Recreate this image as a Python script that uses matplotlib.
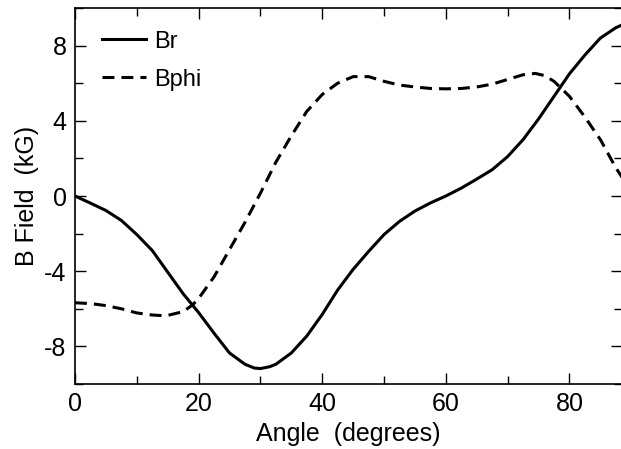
import matplotlib
matplotlib.use("Agg")
import matplotlib.pyplot as plt
from matplotlib.ticker import MultipleLocator

angle_br = [0, 2.5, 5, 7.5, 10, 12.5, 15, 17.5, 20, 22.5, 25, 27.5, 29, 30, 31.5, 32.5,
            35, 37.5, 40, 42.5, 45, 47.5, 50, 52.5, 55, 57.5, 60, 62.5, 65, 67.5, 70,
            72.5, 75, 77.5, 80, 82.5, 85, 87.5, 88.5]
br = [0, -0.38, -0.77, -1.3, -2.05, -2.9, -4.05, -5.2, -6.2, -7.3, -8.35, -8.95, -9.15,
      -9.18, -9.08, -8.95, -8.35, -7.45, -6.3, -5.0, -3.9, -2.95, -2.05, -1.35, -0.8,
      -0.37, 0.0, 0.42, 0.9, 1.4, 2.1, 3.0, 4.1, 5.3, 6.5, 7.5, 8.4, 8.95, 9.1]

angle_bphi = [0, 2.5, 5, 7.5, 10, 12.5, 14, 15, 17.5, 19, 20, 22.5, 25, 27.5, 30, 32.5,
              35, 37.5, 40, 42.5, 45, 47.5, 50, 52.5, 55, 57.5, 60, 62.5, 65, 67.5,
              70, 72.5, 74.5, 76, 77.5, 80, 82.5, 85, 87.5, 88.5]
bphi = [-5.68, -5.72, -5.83, -6.0, -6.22, -6.33, -6.36, -6.35, -6.15, -5.8, -5.45, -4.3,
        -2.85, -1.4, 0.15, 1.8, 3.2, 4.5, 5.4, 6.0, 6.35, 6.35, 6.1, 5.9, 5.8, 5.72,
        5.7, 5.72, 5.8, 5.95, 6.2, 6.45, 6.52, 6.4, 6.1, 5.3, 4.2, 3.0, 1.5, 1.0]

xticks = [0, 20, 40, 60, 80]
yticks = [-8, -4, 0, 4, 8]
ytick_labels = ["-8", "-4", "0", "4", "8"]

plt.rcParams['font.family'] = ['Liberation Sans', 'DejaVu Sans']

fig = plt.figure(figsize=(6.21, 4.49), dpi=100)
ax = fig.add_axes([75/621, 1 - 384/449, 547/621, 376/449])

ax.plot(angle_br, br, color='black', lw=2.2, label='Br')
ax.plot(angle_bphi, bphi, color='black', lw=2.2, ls=(0, (3.9, 2.3)), label='Bphi')

ax.set_xlim(0, 88.5)
ax.set_ylim(-10, 10)
ax.set_xticks(xticks)
ax.set_yticks(yticks)
ax.set_yticklabels(ytick_labels)
ax.xaxis.set_minor_locator(MultipleLocator(10))
ax.yaxis.set_minor_locator(MultipleLocator(2))
ax.tick_params(which='both', direction='in', top=True, right=True, labelsize=18,
               width=1.0, pad=6)
ax.tick_params(which='major', length=8)
ax.tick_params(which='minor', length=6)
for s in ax.spines.values():
    s.set_linewidth(1.2)

ax.set_xlabel("Angle  (degrees)", fontsize=18, labelpad=4)
ax.set_ylabel("B Field  (kG)", fontsize=18, labelpad=4)

ax.legend(loc='upper left', frameon=False, fontsize=17, handlelength=1.86,
          handletextpad=0.34, labelspacing=0.68, borderpad=0, borderaxespad=0,
          bbox_to_anchor=(0.05, 0.94))

fig.savefig("out.png", dpi=100)
